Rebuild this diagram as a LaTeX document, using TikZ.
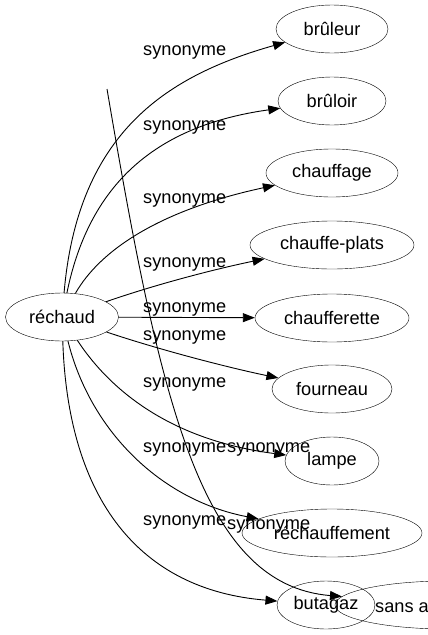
\documentclass[tikz,border=0pt]{standalone}
\usepackage{fontspec}
\setmainfont{Liberation Sans}
\usetikzlibrary{shapes.geometric,arrows.meta}
\tikzset{
  word/.style={draw, ellipse, inner sep=0pt, minimum height=48pt, font=\fontsize{18.2}{20}\selectfont},
  lab/.style={inner sep=0pt, anchor=base west, font=\fontsize{18.2}{20}\selectfont},
  edge/.style={line width=0.9pt, -{Triangle[length=12pt,width=9pt]}}
}
\begin{document}
\begin{tikzpicture}[x=1pt,y=-1pt]
\useasboundingbox (0,0) rectangle (428,635);
\clip (0,0) rectangle (428,635);
\node[word, minimum width=113pt] (rechaud) at (62,317) {réchaud};
\node[word, minimum width=112pt] (bruleur) at (332,29) {brûleur};
\node[word, minimum width=108pt] (bruloir) at (332,101) {brûloir};
\node[word, minimum width=132pt] (chauffage) at (332,173) {chauffage};
\node[word, minimum width=164pt] (chauffeplats) at (332,245) {chauffe-plats};
\node[word, minimum width=154pt] (chaufferette) at (332,318) {chaufferette};
\node[word, minimum width=120pt] (fourneau) at (332,389) {fourneau};
\node[word, minimum width=94pt] (lampe) at (332,461) {lampe};
\node[word, minimum width=180pt] (rechauffement) at (332,533) {réchauffement};
\node[word, minimum width=98pt] (butagaz) at (326,605) {butagaz};
\node[word, minimum width=224pt] (sansa) at (447,605) {};
\node[lab] (sanstext) at (375,612) {sans a};
\coordinate (free) at (107,89);

\draw[edge] (rechaud) .. controls (78,130) and (170,75) .. (bruleur);
\draw[edge] (rechaud) .. controls (90,180) and (160,125) .. (bruloir);
\draw[edge] (rechaud) .. controls (100,250) and (160,210) .. (chauffage);
\draw[edge] (rechaud) .. controls (160,283) and (220,268) .. (chauffeplats);
\draw[edge] (rechaud) -- (chaufferette);
\draw[edge] (rechaud) .. controls (160,350) and (230,368) .. (fourneau);
\draw[edge] (rechaud) .. controls (110,390) and (170,440) .. (lampe);
\draw[edge] (rechaud) .. controls (90,430) and (160,500) .. (rechauffement);
\draw[edge] (rechaud) .. controls (68,500) and (140,590) .. (butagaz);
\draw[edge] (free) .. controls (160,400) and (200,585) .. (sansa);

\node[lab] (l1) at (143,55) {synonyme};
\node[lab] (l2) at (143,130) {synonyme};
\node[lab] (l3) at (143,203) {synonyme};
\node[lab] (l4) at (143,267) {synonyme};
\node[lab] (l5) at (143,312) {synonyme};
\node[lab] (l6) at (143,340) {synonyme};
\node[lab] (l7) at (143,387) {synonyme};
\node[lab] (l8) at (143,452) {synonyme};
\node[lab] (l9) at (227,452) {synonyme};
\node[lab] (l10) at (143,525) {synonyme};
\node[lab] (l11) at (227,529) {synonyme};
\end{tikzpicture}
\end{document}
